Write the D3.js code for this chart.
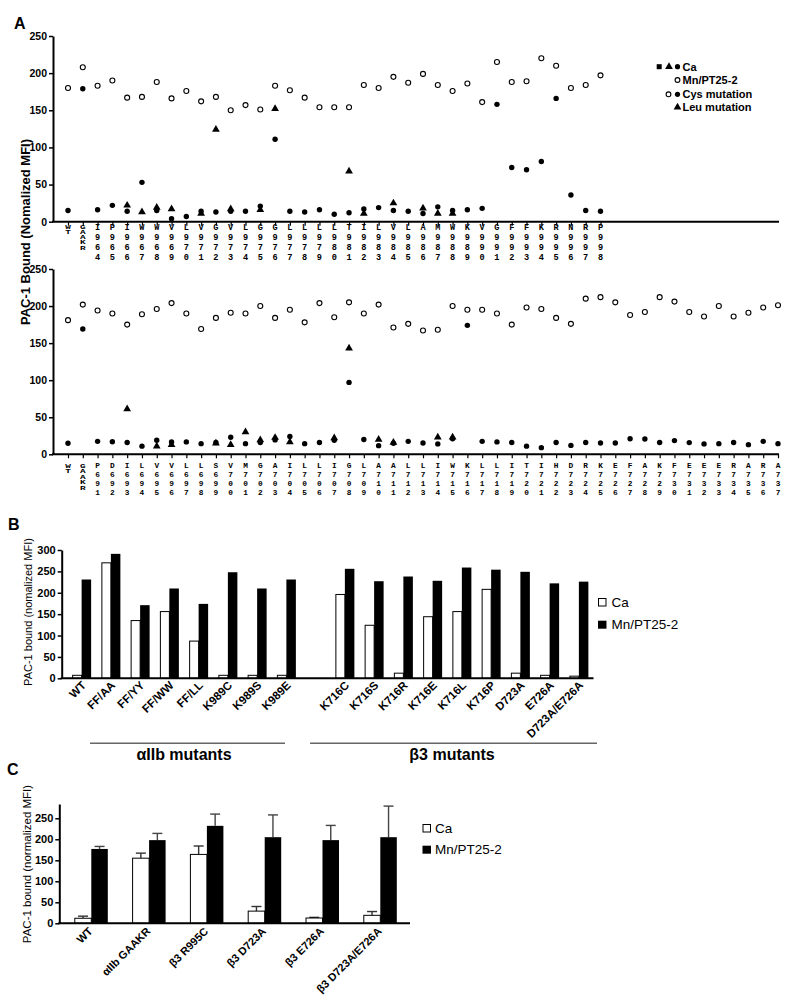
<!DOCTYPE html>
<html><head><meta charset="utf-8">
<script src="https://cdn.jsdelivr.net/npm/d3@7"></script>
<style>body{margin:0;background:#fff}svg{display:block}</style>
</head><body><svg id="c" width="798" height="1004"></svg>
<script>
// ---------- Panel A data ----------
const topCats = ["WT","GAAKR","I964","P965","I966","W967","W968","V969","L970","V971","G972","V973","L974","G975","G976","L977","L978","L979","L980","T981","I982","L983","V984","L985","A986","M987","W988","K989","V990","G991","F992","F993","K994","R995","N996","R997","P998"];
const topMn  = [180,208,183,190,167,168,188,166,176,162,168,150,157,151,183,177,167,154,154,154,184,180,195,187,199,184,176,186,161,215,188,189,220,210,180,184,197];
const topCys = [15,179,16,22,14,53,15,4,7,14,13,14,14,21,111,14,13,16,10,12,17,19,15,14,11,20,15,16,18,158,73,70,81,166,36,15,14];
const topLeu = [null,null,null,null,22,13,19,17,null,11,124,17,null,16,152,null,null,null,null,68,11,null,25,null,18,11,11,null,null,null,null,null,null,null,null,null,null];

const botCats = ["WT","GAAKR","P691","D692","I693","L694","V695","V696","L697","L698","S699","V700","M701","G702","A703","I704","L705","L706","I707","G708","L709","A710","A711","L712","L713","I714","W715","K716","L717","L718","I719","T720","I721","H722","D723","R724","K725","E726","F727","A728","K729","F730","E731","E732","E733","R734","A735","R736","A737"];
const botMn  = [181,202,194,190,175,189,196,204,190,169,184,191,190,200,184,195,178,204,185,205,190,202,171,176,167,168,200,195,195,190,175,198,196,184,176,210,212,205,188,192,212,206,192,186,200,186,191,198,201];
const botCys = [15,169,17.5,17,16,11,19,16.7,16.7,14.4,16,23,14.4,16,19.4,24,14.4,16,19,97,20,11.7,15,17.5,15.3,14,21,174,17.5,16.7,16,11,9,16,12,16,15.3,15.3,21,20.7,16,18.5,15.8,14,14.4,16,13,17.5,14.4];
const botLeu = [null,null,null,null,61,null,11,13,null,null,15,13,30,19.4,22.5,16.7,null,null,22,143,null,20,16,null,null,23,23,
  null,null,null,null,null,null,null,null,null,null,null,null,null,null,null,null,null,null,null,null,null,null];
const yTicksA = [0,50,100,150,200,250];

// ---------- Panel B data ----------
const bCats = ["WT","FF/AA","FF/YY","FF/WW","FF/LL","K989C","K989S","K989E","K716C","K716S","K716R","K716E","K716L","K716P","D723A","E726A","D723A/E726A"];
const bCa = [7,270,135,156,87,7,7,7,196,124,12,144,156,208,12,7,5];
const bMn = [231,291,171,210,174,248,210,231,256,227,238,228,259,254,249,222,226];
const yTicksB = [0,50,100,150,200,250,300];
const bGroups = ["αIIb mutants","β3 mutants"];

// ---------- Panel C data ----------
const cCats = ["WT","αIIb GAAKR","β3 R995C","β3 D723A","β3 E726A","β3 D723A/E726A"];
const cCa = [12,155,164,29,12.6,19];
const cCaErr = [5,12,20,11,1.5,9];
const cMn = [177,198,232,205,198,205];
const cMnErr = [6,16,28,53,35,74];
const yTicksC = [0,50,100,150,200,250];

const legendLabels = ["Ca","Mn/PT25-2"];

// ---------- drawing ----------
const svg = d3.select("#c");
const SANS = "'Liberation Sans', Arial, sans-serif";
const MONO = "'Liberation Mono', 'Courier New', monospace";

function styleYAxis(s, fs){
  s.select(".domain").attr("stroke-width",2);
  s.selectAll(".tick line").attr("stroke-width",1.5);
  s.selectAll("text").attr("font-family",SANS).attr("font-weight","bold").attr("font-size",fs).attr("fill","#000");
}

[["A",14,29],["B",8,530],["C",7,775]].forEach(([t,x,y])=>{
  svg.append("text").attr("x",x).attr("y",y).text(t).attr("font-family",SANS).attr("font-weight","bold").attr("font-size",16);
});

// ===== Panel A =====
const xA = d3.scalePoint().domain(d3.range(49)).range([68,778]);
const panelsA = [
  {cats:topCats, mn:topMn, cys:topCys, leu:topLeu, y:d3.scaleLinear().domain([0,250]).range([221.7,36]), lab0:229.5, dl:10, fs:8.6, small0:228.7, dls:5.2},
  {cats:botCats, mn:botMn, cys:botCys, leu:botLeu, y:d3.scaleLinear().domain([0,250]).range([454.3,269]), lab0:468.3, dl:9, fs:7.8, small0:467.5, dls:5.6}
];
const tri = d3.symbol().type(d3.symbolTriangle).size(26);
panelsA.forEach(p=>{
  const g = svg.append("g");
  g.append("g").attr("transform","translate(53,0)")
    .call(d3.axisLeft(p.y).tickValues(yTicksA).tickSize(4).tickSizeOuter(0).tickPadding(2))
    .call(s=>styleYAxis(s,10.5));
  const y0 = p.y(0);
  g.append("line").attr("x1",52).attr("x2",779).attr("y1",y0).attr("y2",y0).attr("stroke","#000").attr("stroke-width",2);
  g.append("g").attr("transform",`translate(0,${y0})`)
    .call(d3.axisBottom(xA).tickValues(d3.range(p.cats.length)).tickSize(4).tickFormat(""))
    .call(s=>{s.select(".domain").remove(); s.selectAll(".tick line").attr("stroke-width",1.2);});
  // stacked labels: one character per line
  p.cats.forEach((c,i)=>{
    const x = xA(i);
    const small = (c==="WT"||c==="GAAKR");
    c.split("").forEach((ch,k)=>{
      const t = g.append("text").attr("text-anchor","middle").attr("font-family",MONO)
        .attr("font-weight","bold").text(ch);
      if(small){
        t.attr("font-size",7.5).attr("transform",`translate(${x},${p.small0+k*p.dls}) scale(1.25,0.6)`);
      } else {
        t.attr("font-size",p.fs).attr("x",x).attr("y",p.lab0+k*p.dl);
      }
    });
  });
  g.selectAll(".mn").data(p.mn).join("circle").attr("cx",(d,i)=>xA(i)).attr("cy",d=>p.y(d))
    .attr("r",2.5).attr("fill","#fff").attr("stroke","#000").attr("stroke-width",1.1);
  g.selectAll(".leu").data(p.leu.map((d,i)=>[d,i]).filter(d=>d[0]!==null)).join("path")
    .attr("d",tri).attr("transform",d=>`translate(${xA(d[1])},${p.y(d[0])})`).attr("fill","#000");
  g.selectAll(".cys").data(p.cys).join("circle").attr("cx",(d,i)=>xA(i)).attr("cy",d=>p.y(d))
    .attr("r",2.7).attr("fill","#000");
});
svg.append("text").attr("transform","translate(30,232) rotate(-90)").attr("text-anchor","middle")
  .attr("font-family",SANS).attr("font-weight","bold").attr("font-size",13).text("PAC-1 Bound (Nomalized MFI)");
{
  const lg = svg.append("g").attr("font-family",SANS).attr("font-weight","bold").attr("font-size",11);
  const rows = [66.7,80,94.3,107.3];
  lg.append("rect").attr("x",656.7).attr("y",rows[0]-2.5).attr("width",5).attr("height",5).attr("fill","#000");
  lg.append("path").attr("d",tri).attr("transform",`translate(669,${rows[0]})`).attr("fill","#000");
  lg.append("circle").attr("cx",677.5).attr("cy",rows[0]).attr("r",2.6).attr("fill","#000");
  lg.append("circle").attr("cx",677.5).attr("cy",rows[1]).attr("r",2.4).attr("fill","#fff").attr("stroke","#000").attr("stroke-width",1.1);
  lg.append("circle").attr("cx",668.5).attr("cy",rows[2]).attr("r",2.4).attr("fill","#fff").attr("stroke","#000").attr("stroke-width",1.1);
  lg.append("circle").attr("cx",677.5).attr("cy",rows[2]).attr("r",2.6).attr("fill","#000");
  lg.append("path").attr("d",tri).attr("transform",`translate(677.5,${rows[3]})`).attr("fill","#000");
  ["Ca","Mn/PT25-2","Cys mutation","Leu mutation"].forEach((t,i)=>{
    lg.append("text").attr("x",682.5).attr("y",rows[i]+4).text(t);
  });
}

// ===== Panel B =====
{
  const slots = d3.range(18);
  const xB = d3.scaleBand().domain(slots).range([67,593.5]);
  const slotOf = i => i<8 ? i : i+1;
  const yB = d3.scaleLinear().domain([0,300]).range([678.3,550]);
  const bw = 9;
  const g = svg.append("g");
  g.append("g").attr("transform","translate(61.7,0)")
    .call(d3.axisLeft(yB).tickValues(yTicksB).tickSize(4).tickSizeOuter(0).tickPadding(2))
    .call(s=>styleYAxis(s,11));
  const cx = i => xB(slotOf(i)) + xB.bandwidth()/2;
  g.selectAll(".ca").data(bCa).join("rect").attr("x",(d,i)=>cx(i)-bw).attr("width",bw)
    .attr("y",d=>yB(d)).attr("height",d=>yB(0)-yB(d)).attr("fill","#fff").attr("stroke","#000").attr("stroke-width",1);
  g.selectAll(".mnb").data(bMn).join("rect").attr("x",(d,i)=>cx(i)).attr("width",bw+0.5)
    .attr("y",d=>yB(d)).attr("height",d=>yB(0)-yB(d)).attr("fill","#000");
  g.append("line").attr("x1",60.7).attr("x2",593.5).attr("y1",yB(0)).attr("y2",yB(0)).attr("stroke","#000").attr("stroke-width",2);
  bCats.forEach((c,i)=>{
    g.append("text").attr("transform",`translate(${cx(i)+5},${686}) rotate(-45)`).attr("text-anchor","end")
      .attr("font-family",SANS).attr("font-weight","bold").attr("font-size",11.5).text(c);
  });
  const grp = [[90,285,184],[310,597,452]];
  grp.forEach((d,i)=>{
    g.append("line").attr("x1",d[0]).attr("x2",d[1]).attr("y1",743.3).attr("y2",743.3).attr("stroke","#666").attr("stroke-width",1.5);
    g.append("text").attr("x",d[2]).attr("y",760).attr("text-anchor","middle").attr("font-family",SANS).attr("font-weight","bold").attr("font-size",16).text(bGroups[i]);
  });
  svg.append("text").attr("transform","translate(32,612) rotate(-90)").attr("text-anchor","middle")
    .attr("font-family",SANS).attr("font-size",11).text("PAC-1 bound (nomalized MFI)");
  g.append("rect").attr("x",598.5).attr("y",598.5).attr("width",7.5).attr("height",7.5).attr("fill","#fff").attr("stroke","#000").attr("stroke-width",1);
  g.append("rect").attr("x",598).attr("y",620.7).attr("width",8.5).attr("height",8).attr("fill","#000");
  legendLabels.forEach((t,i)=>{
    g.append("text").attr("x",611.5).attr("y",607+i*22).attr("font-family",SANS).attr("font-size",13.5).text(t);
  });
}

// ===== Panel C =====
{
  const xC = d3.scaleBand().domain(d3.range(cCats.length)).range([62.4,409.2]);
  const yC = d3.scaleLinear().domain([0,284]).range([923.3,804]);
  const bw = 16.5;
  const g = svg.append("g");
  g.append("g").attr("transform","translate(59.3,0)")
    .call(d3.axisLeft(yC).tickValues(yTicksC).tickSize(4).tickSizeOuter(0).tickPadding(2))
    .call(s=>styleYAxis(s,11));
  const cx = i => xC(i) + xC.bandwidth()/2;
  const err = (vals, errs, off, col) => {
    vals.forEach((v,i)=>{
      const x = cx(i)+off, yt = yC(v+errs[i]);
      g.append("line").attr("x1",x).attr("x2",x).attr("y1",yC(v)).attr("y2",yt).attr("stroke",col).attr("stroke-width",1.4);
      g.append("line").attr("x1",x-5).attr("x2",x+5).attr("y1",yt).attr("y2",yt).attr("stroke",col).attr("stroke-width",1.4);
    });
  };
  err(cCa,cCaErr,-bw/2,"#333");
  err(cMn,cMnErr,bw/2,"#444");
  g.selectAll(".cca").data(cCa).join("rect").attr("x",(d,i)=>cx(i)-bw).attr("width",bw)
    .attr("y",d=>yC(d)).attr("height",d=>yC(0)-yC(d)).attr("fill","#fff").attr("stroke","#000").attr("stroke-width",1);
  g.selectAll(".cmn").data(cMn).join("rect").attr("x",(d,i)=>cx(i)).attr("width",bw)
    .attr("y",d=>yC(d)).attr("height",d=>yC(0)-yC(d)).attr("fill","#000");
  g.append("line").attr("x1",58.3).attr("x2",410).attr("y1",yC(0)).attr("y2",yC(0)).attr("stroke","#000").attr("stroke-width",2);
  cCats.forEach((c,i)=>{
    g.append("text").attr("transform",`translate(${cx(i)+2},${932}) rotate(-45)`).attr("text-anchor","end")
      .attr("font-family",SANS).attr("font-weight","bold").attr("font-size",11).text(c);
  });
  svg.append("text").attr("transform","translate(31,864) rotate(-90)").attr("text-anchor","middle")
    .attr("font-family",SANS).attr("font-size",11.5).text("PAC-1 bound (normalized MFI)");
  g.append("rect").attr("x",423).attr("y",824.5).attr("width",7.5).attr("height",7.5).attr("fill","#fff").attr("stroke","#000").attr("stroke-width",1);
  g.append("rect").attr("x",422.5).attr("y",845.7).attr("width",8.5).attr("height",8).attr("fill","#000");
  legendLabels.forEach((t,i)=>{
    g.append("text").attr("x",435).attr("y",832.5+i*21.5).attr("font-family",SANS).attr("font-size",13.5).text(t);
  });
}
</script></body></html>
